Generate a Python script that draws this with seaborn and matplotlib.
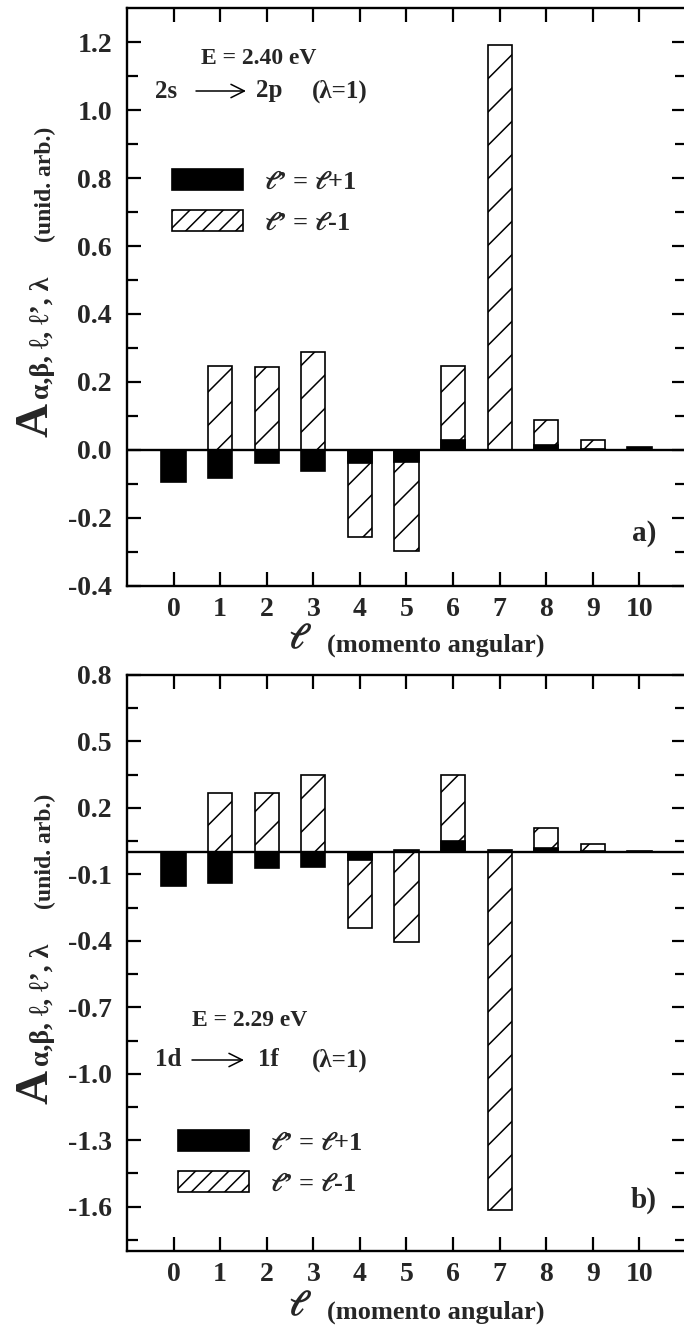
import numpy as np
import pandas as pd
import matplotlib
matplotlib.use("Agg")
import matplotlib.pyplot as plt
import seaborn as sns
from matplotlib.patches import Patch
from matplotlib.ticker import FixedLocator

# ---------------- data ----------------
ells = list(range(11))
x_tick_labels = [str(v) for v in ells]

# panel a)  E = 2.40 eV, 2s -> 2p
a_plus = [-0.095, -0.082, -0.038, -0.062, -0.038, -0.035, 0.030, 0.0, 0.015, 0.003, 0.008]
a_minus = [0.0, 0.248, 0.243, 0.289, -0.258, -0.299, 0.246, 1.191, 0.088, 0.028, 0.0]

# panel b)  E = 2.29 eV, 1d -> 1f
b_plus = [-0.152, -0.137, -0.072, -0.067, -0.034, 0.010, 0.049, 0.010, 0.019, 0.005, 0.004]
b_minus = [0.0, 0.269, 0.269, 0.348, -0.342, -0.405, 0.348, -1.617, 0.110, 0.037, 0.0]

a_major = [-0.4, -0.2, 0.0, 0.2, 0.4, 0.6, 0.8, 1.0, 1.2]
a_minor = [-0.3, -0.1, 0.1, 0.3, 0.5, 0.7, 0.9, 1.1]
b_major = [0.8, 0.5, 0.2, -0.1, -0.4, -0.7, -1.0, -1.3, -1.6]
b_minor = [0.65, 0.35, 0.05, -0.25, -0.55, -0.85, -1.15, -1.45, -1.75]

a_energy = "E = 2.40 eV"
a_states = ["2s", "2p"]
b_energy = "E = 2.29 eV"
b_states = ["1d", "1f"]
order_text = "(λ=1)"
legend_labels = [r"$\ell$’ = $\ell$+1", r"$\ell$’ = $\ell$-1"]

# ---------------- style ----------------
sns.set_theme(style="white")
plt.rcParams.update({
    "axes.unicode_minus": False,
    "mathtext.fontset": "stix",
    "font.weight": "bold",
    "hatch.linewidth": 0.55,
    "axes.edgecolor": "black",
})
plt.rcParams["font.family"] = ["Liberation Serif", "DejaVu Serif"]

W, H = 684, 1330
fig = plt.figure(figsize=(W / 200, H / 200), dpi=200)
fig.patch.set_facecolor("white")


def fx(x):
    return x / W


def fy(y):
    return 1 - y / H


def panel(ax, plus, minus, ylim, major, minor, energy, states, dy, tag, pos):
    df = pd.DataFrame({"l": ells, "plus": plus, "minus": minus})
    sns.barplot(data=df, x="l", y="minus", color="white", saturation=1,
                edgecolor="black", linewidth=0.6, hatch="//", width=0.52,
                errorbar=None, ax=ax, zorder=2)
    sns.barplot(data=df, x="l", y="plus", color="black", saturation=1,
                edgecolor="black", linewidth=0.6, width=0.52,
                errorbar=None, ax=ax, zorder=3)
    ax.axhline(0, color="black", lw=0.85, zorder=4)
    ax.set_xlim(-1, 11)
    ax.set_ylim(*ylim)
    ax.set_xlabel("")
    ax.set_ylabel("")
    ax.set_xticks(ells)
    ax.set_xticklabels(x_tick_labels)
    ax.yaxis.set_major_locator(FixedLocator(major))
    ax.set_yticklabels([f"{v:.1f}" for v in major])
    ax.yaxis.set_minor_locator(FixedLocator(minor))
    ax.tick_params(axis="both", which="both", direction="in", top=True,
                   right=True, bottom=True, left=True, color="black")
    ax.tick_params(which="major", length=5.2, width=0.8, labelsize=10)
    ax.tick_params(which="minor", length=4.0, width=0.8)
    ax.tick_params(axis="x", pad=4)
    ax.tick_params(axis="y", pad=5.4)
    for s in ax.spines.values():
        s.set_visible(True)
        s.set_linewidth(0.85)
        s.set_color("black")

    handles = [Patch(facecolor="black", edgecolor="black", lw=0.6),
               Patch(facecolor="white", edgecolor="black", hatch="////", lw=0.6)]
    lx, ly = pos["legend"]
    ax.legend(handles, legend_labels, loc="upper left",
              bbox_to_anchor=(fx(lx), fy(ly)), bbox_transform=fig.transFigure,
              frameon=False, fontsize=9.5, handlelength=2.7, handleheight=0.83,
              handletextpad=0.8, labelspacing=0.62, borderpad=0, borderaxespad=0)

    ex, ey = pos["energy"]
    fig.text(fx(ex), fy(ey), energy, ha="center", va="center", fontsize=8.5)
    ty = pos["trans_y"]
    fig.text(fx(155), fy(ty), states[0], ha="left", va="center", fontsize=9)
    ax.annotate("", xy=(fx(pos["arrow"][1]), fy(ty)), xytext=(fx(pos["arrow"][0]), fy(ty)),
                xycoords="figure fraction", textcoords="figure fraction",
                arrowprops=dict(arrowstyle="->", lw=0.55, color="black",
                                shrinkA=0, shrinkB=0, mutation_scale=12))
    fig.text(fx(pos["state2_x"]), fy(ty), states[1], ha="left", va="center", fontsize=9)
    fig.text(fx(312), fy(ty), order_text, ha="left", va="center", fontsize=9)

    # y label (rotated pieces)
    fig.text(fx(48), fy(437 + dy), "A", rotation=90, rotation_mode="anchor",
             ha="left", va="baseline", fontsize=17)
    fig.text(fx(49), fy(399 + dy), "α,β, ℓ, ℓ’, λ", rotation=90, rotation_mode="anchor",
             ha="left", va="baseline", fontsize=10)
    fig.text(fx(51), fy(242 + dy), "(unid. arb.)", rotation=90, rotation_mode="anchor",
             ha="left", va="baseline", fontsize=8.5)

    # x label
    fig.text(fx(300), fy(640 + dy), r"$\ell$", ha="center", va="center", fontsize=12.5)
    fig.text(fx(327), fy(645 + dy), "(momento angular)", ha="left", va="center", fontsize=9.5)

    fig.text(fx(644), fy(533 + dy), tag, ha="center", va="center", fontsize=10.5)


ax1 = fig.add_axes([fx(127), fy(585.7), (686 - 127) / W, (585.7 - 8.3) / H])
ax2 = fig.add_axes([fx(127), fy(1251), (686 - 127) / W, (1251 - 675) / H])

pos_a = {"legend": (172, 169), "energy": (259, 58), "trans_y": 91,
         "arrow": (196, 246), "state2_x": 256}
pos_b = {"legend": (178, 1130), "energy": (250, 1020), "trans_y": 1060,
         "arrow": (192, 244), "state2_x": 258}

panel(ax1, a_plus, a_minus, (-0.4, 1.3), a_major, a_minor, a_energy, a_states, 0, "a)", pos_a)
panel(ax2, b_plus, b_minus, (-1.8, 0.8), b_major, b_minor, b_energy, b_states, 667, "b)", pos_b)

fig.savefig("out.png", dpi=200, facecolor="white")
